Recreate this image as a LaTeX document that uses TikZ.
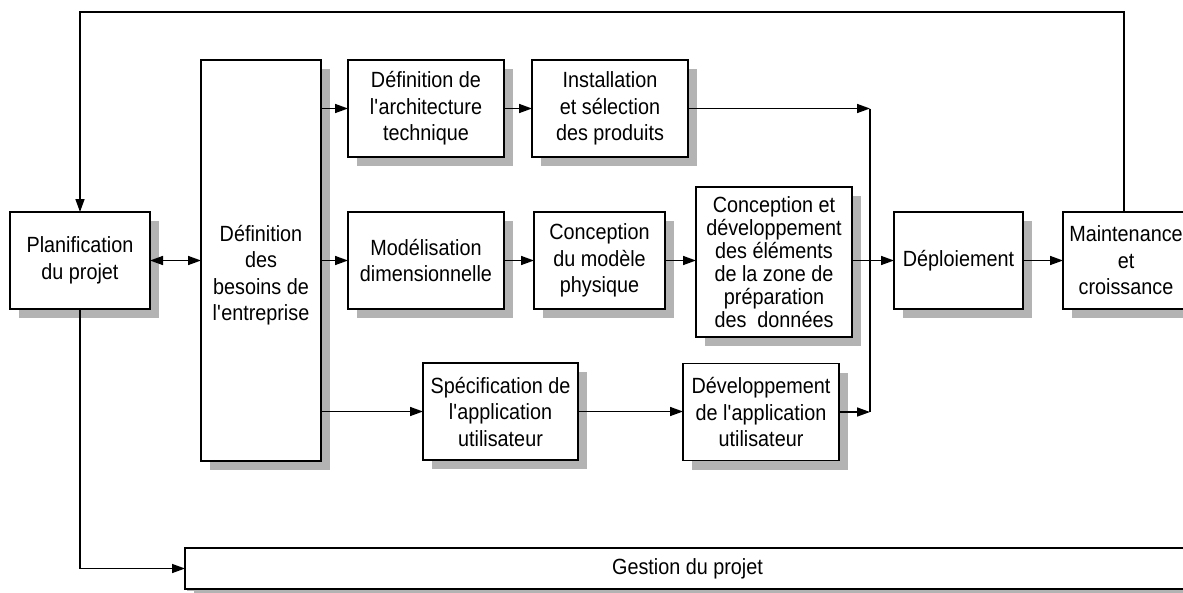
\documentclass[tikz,border=0pt]{standalone}
\usepackage{fontspec}
\setmainfont{Liberation Sans}[FakeStretch=0.9]
\usetikzlibrary{arrows.meta,shadows}
\definecolor{shadowgray}{HTML}{B3B3B3}
\newcommand{\apos}{\textquotesingle}
\tikzset{
  box/.style={draw, line width=1.8pt, fill=white, align=center, inner sep=0pt, outer sep=0pt,
    font=\fontsize{22}{26.5}\selectfont,
    general shadow={shadow xshift=9pt, shadow yshift=-9pt, fill=shadowgray}},
  conn/.style={line width=1.5pt},
  arr/.style={conn, -{Triangle[length=13pt,width=9pt]}},
  arrboth/.style={conn, {Triangle[length=13pt,width=9pt]}-{Triangle[length=13pt,width=9pt]}}
}
\begin{document}
\begin{tikzpicture}[x=1pt,y=-1pt]
\useasboundingbox (0,0) rectangle (1183,592);
\clip (0,0) rectangle (1183,592);
\fill[white] (0,0) rectangle (1183,592);

% process boxes
\node[box, minimum width=140pt, minimum height=97pt] (plan) at (80,260.5) {Planification\\du projet};
\node[box, minimum width=120pt, minimum height=401pt] (besoins) at (261,260.5) {};
\node[align=center, font=\fontsize{22}{26.5}\selectfont] (besoinstxt) at (261,275) {Définition\\des\\besoins de\\l\apos entreprise};
\node[box, minimum width=156pt, minimum height=97pt] (arch) at (426,108.5) {Définition de\\l\apos architecture\\technique};
\node[box, minimum width=156pt, minimum height=97pt] (inst) at (610,108.5) {Installation\\et sélection\\des produits};
\node[box, minimum width=156pt, minimum height=97pt] (model) at (426,260.5) {Modélisation\\dimensionnelle};
\node[box, minimum width=131pt, minimum height=97pt] (phys) at (599.5,260.5) {Conception\\du modèle\\physique};
\node[box, minimum width=156pt, minimum height=150pt, font=\fontsize{22}{23}\selectfont] (prep) at (774,262)
  {Conception et\\développement\\des éléments\\de la zone de\\préparation\\des~~données};
\node[box, minimum width=129pt, minimum height=97pt] (depl) at (958.5,260.5) {Déploiement};
\node[box, minimum width=126pt, minimum height=97pt] (maint) at (1126,260.5) {Maintenance\\et\\croissance};
\node[box, minimum width=155pt, minimum height=97pt] (spec) at (500.5,411.5) {Spécification de\\l\apos application\\utilisateur};
\node[box, minimum width=156pt, minimum height=97pt] (devapp) at (761,412) {Développement\\de l\apos application\\utilisateur};
\node[box, minimum width=1005pt, minimum height=41pt,
  general shadow={shadow xshift=2pt, shadow yshift=-2pt, fill=shadowgray}] (gestion) at (687.5,568.5) {Gestion du projet};

% junctions and feedback corners
\coordinate (jtop) at (870,108.5);
\coordinate (jbot) at (870,412);
\coordinate (fbright) at (1124,12);
\coordinate (fbleft) at (80,12);

% connectors
\draw[arrboth] (plan.east) -- (besoins.west |- plan.east);
\draw[arr] (besoins.east |- arch.west) -- (arch.west);
\draw[arr] (arch.east) -- (inst.west);
\draw[arr] (inst.east) -- (jtop);
\draw[conn] (jtop) -- (jbot);
\draw[arr] (besoins.east |- model.west) -- (model.west);
\draw[arr] (model.east) -- (phys.west);
\draw[arr] (phys.east) -- (phys.east -| prep.west);
\draw[arr] (prep.east |- depl.west) -- (depl.west);
\draw[arr] (depl.east) -- (maint.west);
\draw[arr] (besoins.east |- spec.west) -- (spec.west);
\draw[arr] (spec.east) -- (devapp.west |- spec.east);
\draw[arr] (devapp.east) -- (jbot);
\draw[arr] (maint.north -| fbright) -- (fbright) -- (fbleft) -- (plan.north);
\draw[arr] (plan.south) |- (gestion.west);
\end{tikzpicture}
\end{document}
